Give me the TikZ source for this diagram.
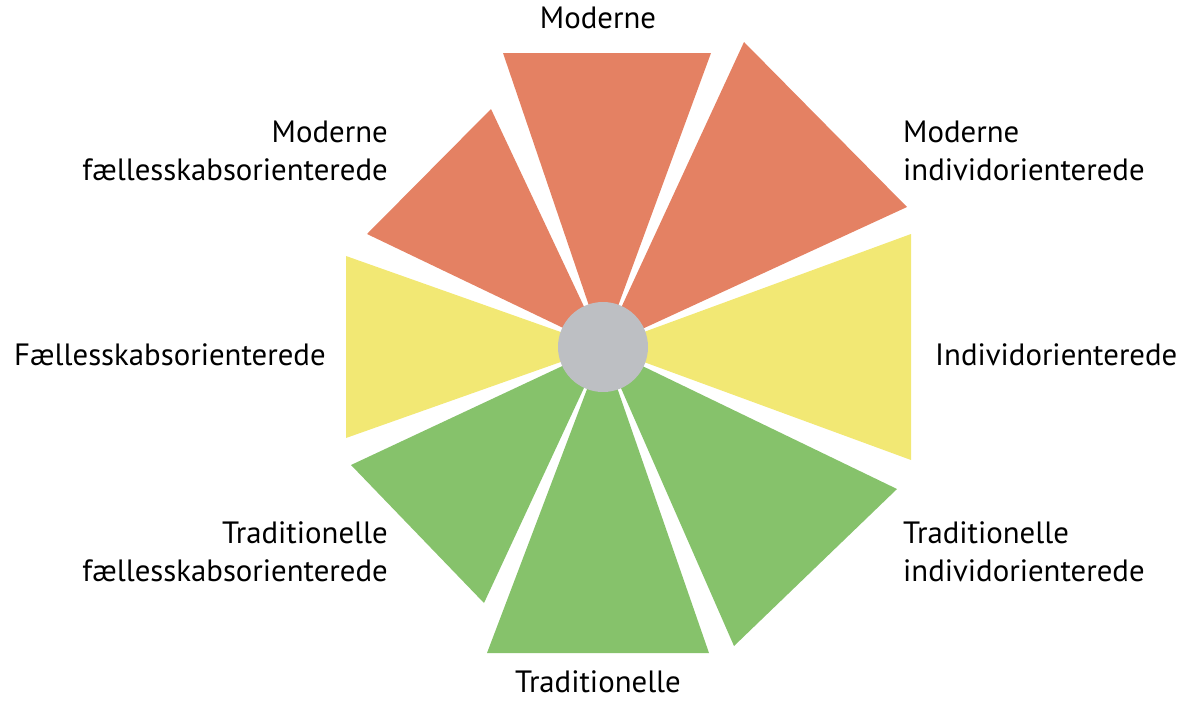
\documentclass[tikz,border=0pt]{standalone}
\usepackage{fontspec}
\setmainfont{PT Sans}
\usepackage{tikz}
\definecolor{segorange}{HTML}{E48163}
\definecolor{segyellow}{HTML}{F2E874}
\definecolor{seggreen}{HTML}{86C26B}
\definecolor{hubgrey}{HTML}{BDBFC3}

\begin{document}
\begin{tikzpicture}[x=1pt, y=-1pt,
  lbl/.style={inner sep=0pt, font=\fontsize{30.8}{38}\selectfont}]
\useasboundingbox (0,0) rectangle (1199,702);
\coordinate (hub) at (603,347);
% wedges
\fill[segorange] (hub) -- (503,53) -- (711,53) -- cycle;
\fill[segorange] (hub) -- (744,42) -- (907,207) -- cycle;
\fill[segyellow] (hub) -- (911,234) -- (911,460) -- cycle;
\fill[seggreen] (hub) -- (897,489) -- (734,646) -- cycle;
\fill[seggreen] (hub) -- (709,653) -- (487,653) -- cycle;
\fill[seggreen] (hub) -- (484,603) -- (351,465) -- cycle;
\fill[segyellow] (hub) -- (346,438) -- (346,256) -- cycle;
\fill[segorange] (hub) -- (367,234) -- (491,109) -- cycle;
\fill[hubgrey] (hub) circle (45);
% labels
\node[lbl, anchor=base] (mod) at (598,28) {Moderne};
\node[lbl, anchor=base east, align=right] (modfael) at (388,180) {Moderne\\fællesskabsorienterede};
\node[lbl, anchor=base west, align=left] (modind) at (903,180) {Moderne\\individorienterede};
\node[lbl, anchor=base west] (fael) at (14,365) {Fællesskabsorienterede};
\node[lbl, anchor=base west] (ind) at (935,365) {Individorienterede};
\node[lbl, anchor=base east, align=right] (tradfael) at (388,581) {Traditionelle\\fællesskabsorienterede};
\node[lbl, anchor=base west, align=left] (tradind) at (903,581) {Traditionelle\\individorienterede};
\node[lbl, anchor=base] (trad) at (598,692) {Traditionelle};
\end{tikzpicture}
\end{document}
